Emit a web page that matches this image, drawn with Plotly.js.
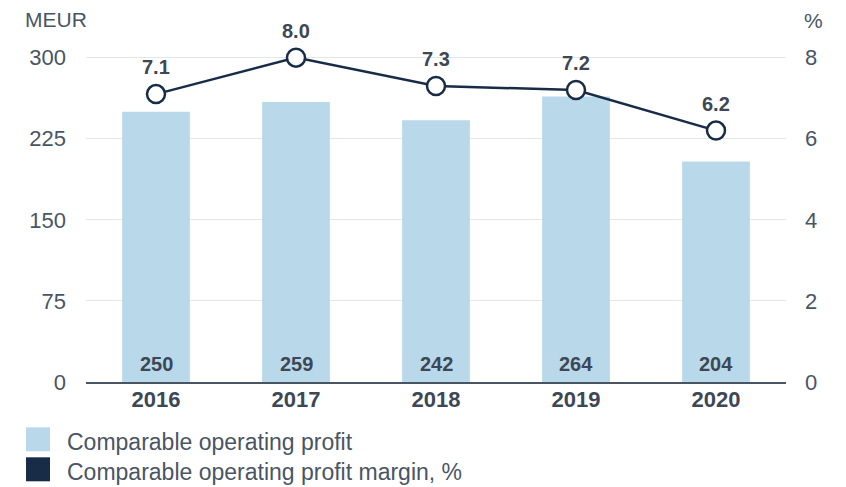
<!DOCTYPE html>
<html><head><meta charset="utf-8">
<script src="https://cdn.plot.ly/plotly-3.0.1.min.js"></script>
<style>body{margin:0}#c{width:846px;height:487px}</style>
</head><body><div id="c"></div>
<script>
const years = ['2016','2017','2018','2019','2020'];
const profit = [250, 259, 242, 264, 204];
const margin = [7.1, 8.0, 7.3, 7.2, 6.2];
const seriesNames = ['Comparable operating profit', 'Comparable operating profit margin, %'];
const seriesColors = ['#b9d9ea', '#182c48'];

const txt = '#3d4756';
const font = 'Liberation Sans, Arial, sans-serif';

const traces = [
  {type:'bar', x:years, y:profit, name:seriesNames[0], marker:{color:seriesColors[0]},
   hoverinfo:'none', showlegend:false},
  {type:'scatter', mode:'lines+markers', x:years, y:margin, yaxis:'y2', name:seriesNames[1],
   line:{color:seriesColors[1], width:2.5},
   marker:{size:18, color:'#ffffff', line:{color:seriesColors[1], width:2.5}},
   cliponaxis:false, hoverinfo:'none', showlegend:false}
];

const shapes = [], annotations = [];
years.forEach((yr,i)=>{
  // category axis: numeric-looking names are read as indices, so position by index i
  annotations.push({x:i, y:0, xref:'x', yref:'y', yanchor:'middle', yshift:18, showarrow:false,
    text:String(profit[i]), font:{family:font, size:20, color:txt, weight:'bold'}});
  annotations.push({x:i, y:margin[i], xref:'x', yref:'y2', yanchor:'middle', yshift:27, showarrow:false,
    text:margin[i].toFixed(1), font:{family:font, size:20, color:txt, weight:'bold'}});
});
seriesNames.forEach((n,i)=>{
  const y0 = 427 + i*30;
  shapes.push({type:'rect', xref:'paper', yref:'paper', layer:'above',
    x0:(26-86)/700, x1:(50-86)/700, y0:(381.7-y0)/346, y1:(381.7-y0-24)/346,
    fillcolor:seriesColors[i], line:{width:0}});
  annotations.push({xref:'paper', yref:'paper', x:(65-86)/700, y:(381.7-y0-15)/346,
    xanchor:'left', yanchor:'middle', showarrow:false, text:n,
    font:{family:font, size:23, color:'#4a5564'}});
});
annotations.push({xref:'paper', yref:'paper', x:(23-86)/700, y:(381.7-19)/346, xanchor:'left', yanchor:'middle',
  showarrow:false, text:'MEUR', font:{family:font, size:21, color:'#4a5564'}});
annotations.push({xref:'paper', yref:'paper', x:(802-86)/700, y:(381.7-20)/346, xanchor:'left', yanchor:'middle',
  showarrow:false, text:'%', font:{family:font, size:21, color:'#4a5564'}});

const layout = {
  width:846, height:487,
  margin:{l:86, r:60, t:487-105-346, b:105},
  paper_bgcolor:'#ffffff', plot_bgcolor:'#ffffff',
  font:{family:font, color:txt},
  bargap:0.516,
  xaxis:{type:'category', range:[-0.5, 4.5], showgrid:false, zeroline:false, showline:true, linecolor:'#4a5564', linewidth:1.5,
    ticks:'', ticklen:0, tickfont:{family:font, size:22, color:txt, weight:'bold'}, ticklabelstandoff:-3},
  yaxis:{range:[0,320], tickvals:[0,75,150,225,300], showgrid:true, gridcolor:'#e3e7ea', gridwidth:1,
    zeroline:false, ticks:'', ticklen:0, tickfont:{family:font, size:22, color:'#4a5564'}, ticklabelstandoff:19},
  yaxis2:{range:[0,8*320/300], overlaying:'y', side:'right', tickvals:[0,2,4,6,8], showgrid:false,
    zeroline:false, ticks:'', ticklen:0, tickfont:{family:font, size:22, color:'#4a5564'}, ticklabelstandoff:18},
  shapes:shapes, annotations:annotations, showlegend:false
};
Plotly.newPlot('c', traces, layout, {displayModeBar:false, staticPlot:true});
</script></body></html>
